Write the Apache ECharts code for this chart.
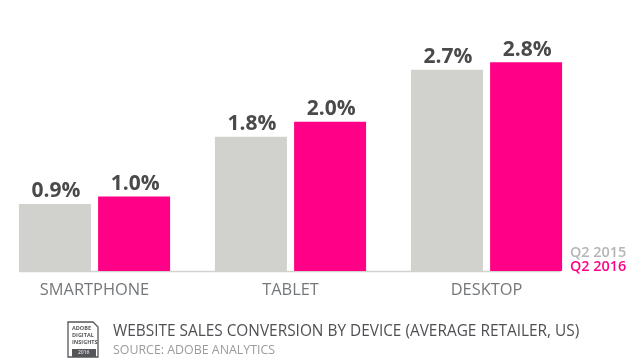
<!DOCTYPE html>
<html><head><meta charset="utf-8">
<style>html,body{margin:0;padding:0;background:#fff}#c{width:640px;height:364px}</style>
<script src="https://cdn.jsdelivr.net/npm/echarts@6/dist/echarts.min.js"></script>
</head><body><div id="c"></div>
<script>
const categories = ['SMARTPHONE', 'TABLET', 'DESKTOP'];
const seriesNames = ['Q2 2015', 'Q2 2016'];
const q2015 = [0.9, 1.8, 2.7];
const q2016 = [1.0, 2.0, 2.8];
const chartTitle = 'WEBSITE SALES CONVERSION BY DEVICE (AVERAGE RETAILER, US)';
const chartSource = 'SOURCE: ADOBE ANALYTICS';
const F = '"Open Sans", sans-serif';
const label = {show:true, position:'top', distance:2, offset:[1,0], formatter:p=>p.value.toFixed(1)+'%',
  fontFamily:F, fontSize:21, fontWeight:700, color:'#4a4a4c'};
const chart = echarts.init(document.getElementById('c'), null, {renderer:'canvas'});
chart.setOption({
  animation:false,
  grid:{left:94.5, right:153.5, top:10, height:261, containLabel:false},
  xAxis:{type:'category', data:categories, boundaryGap:false, axisLine:{show:false}, axisTick:{show:false},
    axisLabel:{fontFamily:F, fontSize:16.4, color:'#75787b', margin:11, interval:0}},
  yAxis:{type:'value', min:0, max:3.5, show:false, splitLine:{show:false}},
  series:[
    {name:seriesNames[0], type:'bar', data:q2015, barWidth:72, barGap:'10%', itemStyle:{color:'#d1d2ce'}, label},
    {name:seriesNames[1], type:'bar', data:q2016, barWidth:72, itemStyle:{color:'#ff0087'}, label}
  ],
  graphic:[
    {type:'line', shape:{x1:19,y1:271.5,x2:561,y2:271.5}, style:{stroke:'#d1d2ce', lineWidth:1.5}},
    {type:'text', left:570, top:246, style:{text:seriesNames[0], font:'600 14.4px '+F, fill:'#b4b5b6'}},
    {type:'text', left:570, top:260, style:{text:seriesNames[1], font:'600 14.4px '+F, fill:'#ff0087'}},
    {type:'text', left:113, top:324, style:{text:chartTitle, font:'15.4px '+F, fill:'#4f5053'}},
    {type:'text', left:113, top:344, style:{text:chartSource, font:'12.4px '+F, fill:'#9a9b9d'}},
    {type:'polygon', shape:{points:[[68,322],[93,322],[98,327],[98,357],[68,357]]}, style:{fill:'#fff', stroke:'#55565a', lineWidth:1.3}},
    {type:'rect', shape:{x:72,y:349,width:24,height:8}, style:{fill:'#55565a'}},
    {type:'text', left:72, top:325, style:{text:'ADOBE\nDIGITAL\nINSIGHTS', font:'700 5.5px '+F, lineHeight:7, fill:'#55565a'}},
    {type:'text', left:78, top:350, style:{text:'2016', font:'5px '+F, fill:'#fff'}}
  ]
});
</script></body></html>
